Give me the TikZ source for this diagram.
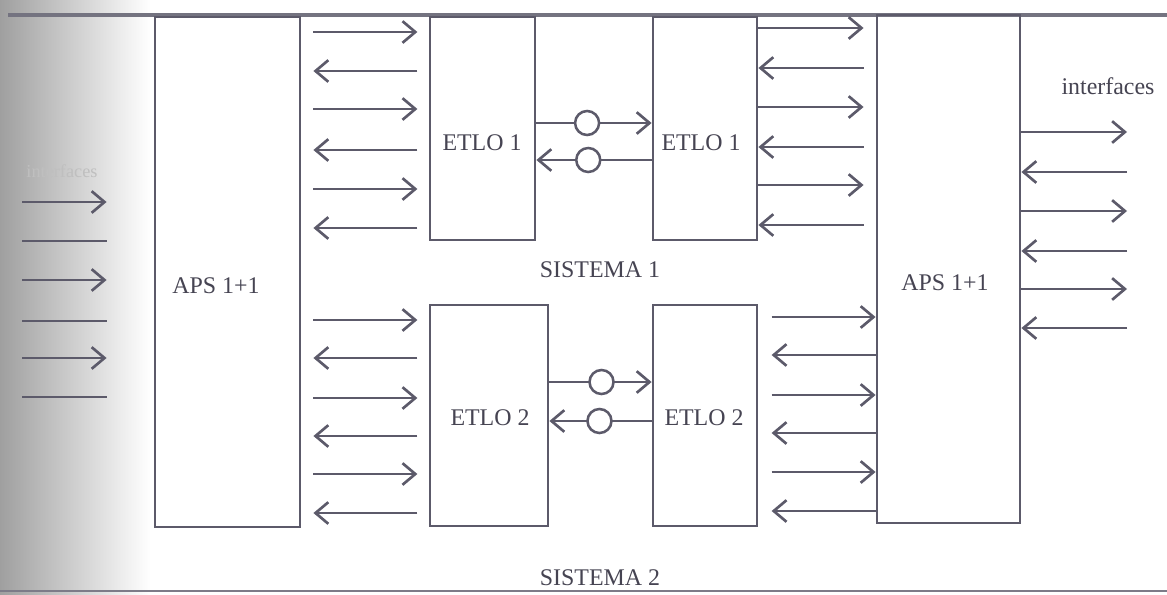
\documentclass[tikz,border=0pt]{standalone}
\usepackage{fontspec}
\setmainfont{Liberation Serif}
\usepackage{tikz}
\usetikzlibrary{positioning,arrows.meta}
\definecolor{linegray}{RGB}{92,90,106}
\definecolor{textgray}{RGB}{70,68,82}

\begin{document}
\begin{tikzpicture}[x=0.025cm,y=-0.025cm,
  box/.style={draw=linegray,line width=2pt,minimum width=#1,inner sep=0pt},
  lbl/.style={font=\fontsize{17}{20}\selectfont,text=textgray,inner sep=1pt},
  arr/.style={-{Straight Barb[length=3.2mm,width=5.4mm]},line width=1.9pt,draw=linegray},
  bare/.style={line width=1.9pt,draw=linegray},
  ring/.style={circle,draw=linegray,line width=1.8pt,fill=white,minimum size=0.6cm,inner sep=0pt}]

\useasboundingbox (0,0) rectangle (1167,594);
% binding shadow of the scan
\shade[left color=gray!75,right color=white] (0,0) rectangle (150,594);
\draw[line width=2.2pt,draw=linegray!85] (8,15) -- (1167,15);
\draw[line width=1.8pt,draw=linegray!80] (0,591) -- (1167,591);

% blocks
\node[box=3.625cm,minimum height=12.75cm] (apsL) at (227.5,272) {};
\node[box=3.575cm,minimum height=12.7cm] (apsR) at (948.5,269) {};
\node[box=2.625cm,minimum height=5.575cm] (etloAL) at (482.5,128.5) {};
\node[box=2.6cm,minimum height=5.575cm] (etloAR) at (705,128.5) {};
\node[box=2.95cm,minimum height=5.525cm] (etloBL) at (489,415.5) {};
\node[box=2.6cm,minimum height=5.525cm] (etloBR) at (705,415.5) {};

\node[lbl] (tApsL) at (216,286) {APS 1+1};
\node[lbl] (tApsR) at (945,283) {APS 1+1};
\node[lbl] (tAL) at (482,143) {ETLO 1};
\node[lbl] (tAR) at (701,143) {ETLO 1};
\node[lbl] (tBL) at (490,418) {ETLO 2};
\node[lbl] (tBR) at (704,418) {ETLO 2};
\node[lbl] (sis1) at (600,270) {SISTEMA 1};
\node[lbl] (sis2) at (600,578) {SISTEMA 2};
\node[lbl] (ifR) at (1108,86) {interfaces};
\node[lbl,text=gray!50,font=\fontsize{13}{15}\selectfont] (ifL) at (62,171) {interfaces};

% APS 1+1 -> ETLO 1
\draw[arr,shorten <=0.3cm,shorten >=0.28cm] (apsL.east |- 0,32) -- (etloAL.west |- 0,32);
\draw[arr,shorten <=0.28cm,shorten >=0.3cm] (etloAL.west |- 0,71) -- (apsL.east |- 0,71);
\draw[arr,shorten <=0.3cm,shorten >=0.28cm] (apsL.east |- 0,109) -- (etloAL.west |- 0,109);
\draw[arr,shorten <=0.28cm,shorten >=0.3cm] (etloAL.west |- 0,150) -- (apsL.east |- 0,150);
\draw[arr,shorten <=0.3cm,shorten >=0.28cm] (apsL.east |- 0,189) -- (etloAL.west |- 0,189);
\draw[arr,shorten <=0.28cm,shorten >=0.3cm] (etloAL.west |- 0,228) -- (apsL.east |- 0,228);

% ETLO 1 -> APS 1+1
\draw[arr,shorten >=0.3cm] (etloAR.east |- 0,28) -- (apsR.west |- 0,28);
\draw[arr,shorten <=0.3cm] (apsR.west |- 0,68) -- (etloAR.east |- 0,68);
\draw[arr,shorten >=0.3cm] (etloAR.east |- 0,107) -- (apsR.west |- 0,107);
\draw[arr,shorten <=0.3cm] (apsR.west |- 0,147) -- (etloAR.east |- 0,147);
\draw[arr,shorten >=0.3cm] (etloAR.east |- 0,185) -- (apsR.west |- 0,185);
\draw[arr,shorten <=0.3cm] (apsR.west |- 0,225) -- (etloAR.east |- 0,225);

% APS 1+1 -> ETLO 2
\draw[arr,shorten <=0.3cm,shorten >=0.28cm] (apsL.east |- 0,320) -- (etloBL.west |- 0,320);
\draw[arr,shorten <=0.28cm,shorten >=0.3cm] (etloBL.west |- 0,358) -- (apsL.east |- 0,358);
\draw[arr,shorten <=0.3cm,shorten >=0.28cm] (apsL.east |- 0,398) -- (etloBL.west |- 0,398);
\draw[arr,shorten <=0.28cm,shorten >=0.3cm] (etloBL.west |- 0,436) -- (apsL.east |- 0,436);
\draw[arr,shorten <=0.3cm,shorten >=0.28cm] (apsL.east |- 0,474) -- (etloBL.west |- 0,474);
\draw[arr,shorten <=0.28cm,shorten >=0.3cm] (etloBL.west |- 0,513) -- (apsL.east |- 0,513);

% ETLO 2 -> APS 1+1
\draw[arr,shorten <=0.33cm] (etloBR.east |- 0,317) -- (apsR.west |- 0,317);
\draw[arr,shorten >=0.33cm] (apsR.west |- 0,355) -- (etloBR.east |- 0,355);
\draw[arr,shorten <=0.33cm] (etloBR.east |- 0,395) -- (apsR.west |- 0,395);
\draw[arr,shorten >=0.33cm] (apsR.west |- 0,433) -- (etloBR.east |- 0,433);
\draw[arr,shorten <=0.33cm] (etloBR.east |- 0,472) -- (apsR.west |- 0,472);
\draw[arr,shorten >=0.33cm] (apsR.west |- 0,511) -- (etloBR.east |- 0,511);

% ETLO <-> ETLO
\draw[arr] (etloAL.east |- 0,123) -- node[ring,pos=0.44] (cA1) {} (etloAR.west |- 0,123);
\draw[arr] (etloAR.west |- 0,160) -- node[ring,pos=0.55] (cA2) {} (etloAL.east |- 0,160);
\draw[arr] (etloBL.east |- 0,382) -- node[ring,pos=0.51] (cB1) {} (etloBR.west |- 0,382);
\draw[arr] (etloBR.west |- 0,421) -- node[ring,pos=0.51] (cB2) {} (etloBL.east |- 0,421);

% right interfaces
\coordinate (r1) at (1127,132);
\coordinate (r2) at (1127,172);
\coordinate (r3) at (1127,211);
\coordinate (r4) at (1127,251);
\coordinate (r5) at (1127,289);
\coordinate (r6) at (1127,328);
\draw[arr] (apsR.east |- r1) -- (r1);
\draw[arr] (r2) -- (apsR.east |- r2);
\draw[arr] (apsR.east |- r3) -- (r3);
\draw[arr] (r4) -- (apsR.east |- r4);
\draw[arr] (apsR.east |- r5) -- (r5);
\draw[arr] (r6) -- (apsR.east |- r6);

% left interfaces
\coordinate (l1) at (22,202);
\coordinate (l2) at (22,241);
\coordinate (l3) at (22,280);
\coordinate (l4) at (22,321);
\coordinate (l5) at (22,358);
\coordinate (l6) at (22,397);
\draw[arr,shorten >=1.175cm] (l1) -- (apsL.west |- l1);
\draw[bare,shorten >=1.175cm] (l2) -- (apsL.west |- l2);
\draw[arr,shorten >=1.175cm] (l3) -- (apsL.west |- l3);
\draw[bare,shorten >=1.175cm] (l4) -- (apsL.west |- l4);
\draw[arr,shorten >=1.175cm] (l5) -- (apsL.west |- l5);
\draw[bare,shorten >=1.175cm] (l6) -- (apsL.west |- l6);
\end{tikzpicture}
\end{document}
